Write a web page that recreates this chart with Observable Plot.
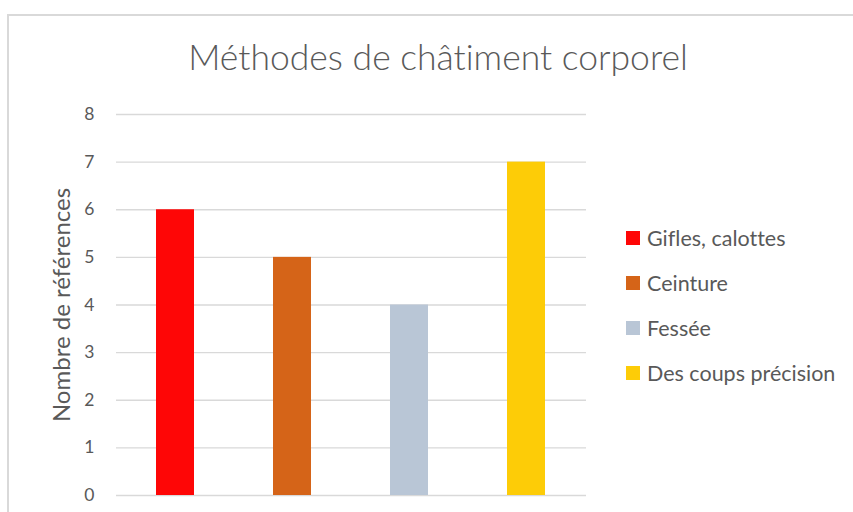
<!DOCTYPE html>
<html><head><meta charset="utf-8">
<script src="https://cdn.jsdelivr.net/npm/d3@7"></script>
<script src="https://cdn.jsdelivr.net/npm/@observablehq/plot@0.6"></script>
<style>
html,body{margin:0;padding:0;background:#fff;}
#wrap{position:relative;width:853px;height:512px;overflow:hidden;font-family:Lato,"Open Sans",sans-serif;color:#595959;font-variant-ligatures:none;}
#frame{position:absolute;left:7px;top:14px;width:900px;height:600px;border-left:2px solid #d9d9d9;border-top:2px solid #d9d9d9;}
#title{position:absolute;left:0;width:876px;top:35px;text-align:center;font-size:35.5px;font-weight:300;white-space:nowrap;font-variant-ligatures:none;}
#legend{position:absolute;left:626px;top:215px;font-size:21.5px;}
.li{display:flex;align-items:center;height:45px;margin-top:0;}
.sw{width:14px;height:14px;margin-right:7px;}
#chart{position:absolute;left:0;top:0;}
#chart text{font-variant-ligatures:none;}
</style></head>
<body>
<div id="wrap">
<div id="frame"></div>
<div id="chart"></div>
<div id="title">Méthodes de châtiment corporel</div>
<div id="legend"></div>
</div>
<script>
const categories = ["Gifles, calottes", "Ceinture", "Fessée", "Des coups précision"];
const values = [6, 5, 4, 7];
const colors = ["#FE0606", "#D56418", "#B9C6D6", "#FDCC07"];
const yTicks = [0, 1, 2, 3, 4, 5, 6, 7, 8];
const yLabel = "Nombre de références";

const data = categories.map((c, i) => ({cat: c, value: values[i]}));

const plot = Plot.plot({
  width: 853,
  height: 512,
  marginLeft: 116,
  marginRight: 267,
  marginTop: 114,
  marginBottom: 17,
  style: {fontFamily: "Lato, 'Open Sans', sans-serif", fontSize: "17.5px", color: "#595959", background: "transparent", overflow: "visible"},
  x: {domain: categories, paddingInner: 0.675, paddingOuter: 0.3375, axis: null},
  y: {domain: [0, 8], ticks: yTicks, label: null, axis: null},
  color: {domain: categories, range: colors},
  marks: [
    Plot.gridY(yTicks, {stroke: "#d9d9d9", strokeOpacity: 1, strokeWidth: 1.3}),
    Plot.axisY(yTicks, {tickSize: 0, tickPadding: 22, fill: "#595959", label: null, tickFormat: d => String(d)}),
    Plot.barY(data, {x: "cat", y: "value", fill: "cat"}),
    Plot.text([yLabel], {frameAnchor: "left", textAnchor: "middle", dx: -54, rotate: -90, fontSize: 24, fill: "#595959", text: d => d})
  ]
});
document.getElementById("chart").appendChild(plot);

const leg = document.getElementById("legend");
categories.forEach((c, i) => {
  const row = document.createElement("div");
  row.className = "li";
  const sw = document.createElement("div");
  sw.className = "sw";
  sw.style.background = colors[i];
  const t = document.createElement("span");
  t.textContent = c;
  row.appendChild(sw); row.appendChild(t);
  leg.appendChild(row);
});
</script>
</body></html>
